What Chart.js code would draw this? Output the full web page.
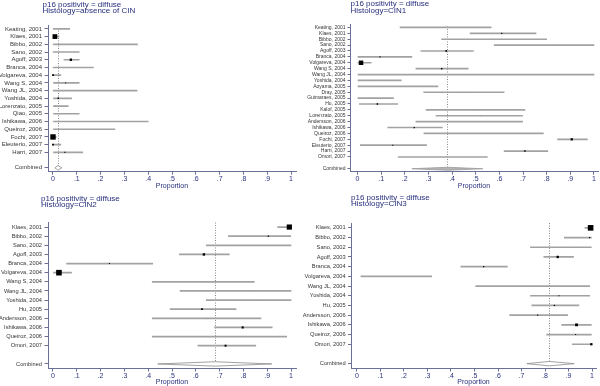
<!DOCTYPE html>
<html><head><meta charset="utf-8">
<script src="https://cdn.jsdelivr.net/npm/chart.js@4/dist/chart.umd.min.js"></script>
<style>
html,body{margin:0;padding:0;background:#fff;width:600px;height:386px;overflow:hidden}
.p{position:absolute;width:300px;height:193px}
canvas{display:block}
</style></head><body>
<div class="p" style="left:0;top:0"><canvas id="c1" width="300" height="193"></canvas></div>
<div class="p" style="left:300px;top:0"><canvas id="c2" width="300" height="193"></canvas></div>
<div class="p" style="left:0;top:193px"><canvas id="c3" width="300" height="193"></canvas></div>
<div class="p" style="left:300px;top:193px"><canvas id="c4" width="300" height="193"></canvas></div>
<script>
// ---------- DATA ----------
const xTickValues = [0, 0.1, 0.2, 0.3, 0.4, 0.5, 0.6, 0.7, 0.8, 0.9, 1];
const xTickLabels = ['0', '.1', '.2', '.3', '.4', '.5', '.6', '.7', '.8', '.9', '1'];
const xAxisTitle = 'Proportion';
const combinedLabel = 'Combined';

// Panel 1: absence of CIN
const p1Title = ['p16 positivity = diffuse', 'Histology=absence of CIN'];
const p1Studies = ['Keating, 2001', 'Klaes, 2001', 'Bibbo, 2002', 'Sano, 2002', 'Agoff, 2003', 'Branca, 2004',
  'Volgareva, 2004', 'Wang S, 2004', 'Wang JL, 2004', 'Yoshida, 2004', 'Lorenzato, 2005', 'Qiao, 2005',
  'Ishikawa, 2006', 'Queiroz, 2006', 'Fochi, 2007', 'Eleuterio, 2007', 'Harri, 2007'];
const p1Est = [0, 0.008, 0, 0, 0.075, 0, 0, 0.053, 0, 0.022, 0.01, 0.02, 0, 0, 0, 0, 0.05];
const p1Lo  = [0, 0, 0, 0, 0.046, 0, 0, 0, 0, 0, 0, 0, 0, 0, 0, 0, 0];
const p1Hi  = [0.07, 0.025, 0.355, 0.11, 0.11, 0.17, 0.033, 0.11, 0.353, 0.078, 0.064, 0.11, 0.40, 0.26, 0.014, 0.033, 0.125];
const p1Weight = [0.5, 20, 0.2, 0.5, 5, 0.5, 3, 1, 0.2, 2, 0.8, 0.8, 0.2, 0.3, 26, 3, 1];
const p1Combined = [0.021, 0.008, 0.037]; // estimate, lower, upper

// Panel 2: CIN1
const p2Title = ['p16 positivity = diffuse', 'Histology=CIN1'];
const p2Studies = ['Keating, 2001', 'Klaes, 2001', 'Bibbo, 2002', 'Sano, 2002', 'Agoff, 2003', 'Branca, 2004',
  'Volgareva, 2004', 'Wang S, 2004', 'Wang JL, 2004', 'Yoshida, 2004', 'Aoyama, 2005', 'Dray, 2005',
  'Guimaraes, 2005', 'Hu, 2005', 'Kalof, 2005', 'Lorenzato, 2005', 'Andersson, 2006', 'Ishikawa, 2006',
  'Queiroz, 2006', 'Fochi, 2007', 'Eleuterio, 2007', 'Harri, 2007', 'Omori, 2007'];
const p2Est = [0.36, 0.61, 0.57, 0.85, 0.375, 0.095, 0.015, 0.356, 0.5, 0.05, 0.1, 0.45, 0.05, 0.084, 0.5, 0.52, 0.46, 0.24, 0.53, 0.906, 0.149, 0.708, 0.35];
const p2Lo  = [0.18, 0.476, 0.356, 0.578, 0.268, 0, 0, 0.247, 0, 0, 0, 0.28, 0, 0.008, 0.29, 0.332, 0.247, 0.128, 0.281, 0.846, 0.012, 0.62, 0.172];
const p2Hi  = [0.565, 0.755, 0.80, 1.0, 0.49, 0.23, 0.058, 0.468, 1.0, 0.185, 0.34, 0.62, 0.152, 0.17, 0.708, 0.698, 0.698, 0.359, 0.786, 0.972, 0.292, 0.805, 0.549];
const p2Weight = [0.6, 1.2, 0.5, 0.3, 2.5, 1, 18, 2, 0.2, 0.5, 0.5, 0.5, 0.5, 2, 0.5, 0.5, 0.5, 1.5, 0.5, 4.5, 1, 2, 0.5];
const p2Combined = [0.38, 0.23, 0.53];

// Panel 3: CIN2
const p3Title = ['p16 positivity = diffuse', 'Histology=CIN2'];
const p3Studies = ['Klaes, 2001', 'Bibbo, 2002', 'Sano, 2002', 'Agoff, 2003', 'Branca, 2004', 'Volgareva, 2004',
  'Wang S, 2004', 'Wang JL, 2004', 'Yoshida, 2004', 'Hu, 2005', 'Andersson, 2006', 'Ishikawa, 2006',
  'Queiroz, 2006', 'Omori, 2007'];
const p3Est = [0.993, 0.905, 0.87, 0.634, 0.237, 0.025, 0.626, 0.83, 0.87, 0.626, 0.644, 0.797, 0.695, 0.725];
const p3Lo  = [0.944, 0.737, 0.644, 0.531, 0.057, 0, 0.417, 0.534, 0.644, 0.492, 0.417, 0.679, 0.417, 0.609];
const p3Hi  = [1.0, 0.999, 1.0, 0.741, 0.419, 0.078, 0.846, 1.0, 1.0, 0.769, 0.874, 0.921, 0.982, 0.852];
const p3Weight = [24, 1.5, 0.4, 5, 1, 28, 0.8, 0.4, 0.4, 3, 0.8, 4, 0.6, 3.5];
const p3Combined = [0.681, 0.44, 0.919];

// Panel 4: CIN3
const p4Title = ['p16 positivity = diffuse', 'Histology=CIN3'];
const p4Studies = ['Klaes, 2001', 'Bibbo, 2002', 'Sano, 2002', 'Agoff, 2003', 'Branca, 2004', 'Volgareva, 2004',
  'Wang JL, 2004', 'Yoshida, 2004', 'Hu, 2005', 'Andersson, 2006', 'Ishikawa, 2006', 'Queiroz, 2006', 'Omori, 2007'];
const p4Est = [0.994, 0.99, 0.93, 0.854, 0.539, 0.165, 0.83, 0.859, 0.84, 0.769, 0.934, 0.93, 0.997];
const p4Lo  = [0.97, 0.882, 0.738, 0.795, 0.442, 0.017, 0.505, 0.738, 0.744, 0.65, 0.871, 0.807, 0.916];
const p4Hi  = [1.0, 0.997, 0.997, 0.921, 0.64, 0.318, 0.99, 0.99, 0.944, 0.896, 0.997, 0.997, 1.0];
const p4Weight = [28, 1.2, 0.3, 5, 1.5, 0.5, 0.3, 1, 1.5, 1, 7, 1, 4.5];
const p4Combined = [0.818, 0.723, 0.924];

// ---------- STYLE / LAYOUT ----------
const FONT = "'Liberation Sans', Arial, sans-serif";
Chart.defaults.font.family = FONT;
const NAVY = '#28307c';
const AXIS = '#6a7098';
const LABEL = '#363636';
const CI = '#a2a2a2';

const forestPlugin = {
  id: 'forest',
  beforeDatasetsDraw(chart, args, o) {
    const ctx = chart.ctx, xs = chart.scales.x, ys = chart.scales.y;
    const px = Math.round(xs.getPixelForValue(o.pooled[0])) + 0.5;
    const yb = ys.getPixelForValue(o.row);
    ctx.save();
    ctx.strokeStyle = '#8a8a8a'; ctx.lineWidth = 1; ctx.setLineDash([1, 1.5]);
    ctx.beginPath(); ctx.moveTo(px, chart.chartArea.top + o.refTop); ctx.lineTo(px, yb + 2); ctx.stroke();
    ctx.restore();
  },
  afterDatasetsDraw(chart, args, o) {
    const ctx = chart.ctx, xs = chart.scales.x, ys = chart.scales.y;
    const cy = ys.getPixelForValue(o.row);
    const e = o.pooled[0], l = o.pooled[1], h = o.pooled[2];
    ctx.save();
    ctx.beginPath();
    ctx.moveTo(xs.getPixelForValue(l), cy);
    ctx.lineTo(xs.getPixelForValue(e), cy - o.dh);
    ctx.lineTo(xs.getPixelForValue(h), cy);
    ctx.lineTo(xs.getPixelForValue(e), cy + o.dh);
    ctx.closePath();
    ctx.fillStyle = o.dFill; ctx.fill();
    ctx.strokeStyle = o.dStroke; ctx.lineWidth = 0.8; ctx.stroke();
    ctx.restore();
  },
  afterDraw(chart, args, o) {
    const ctx = chart.ctx;
    ctx.save();
    ctx.font = o.tSize + 'px ' + FONT;
    ctx.fillStyle = NAVY; ctx.textBaseline = 'middle'; ctx.textAlign = 'left';
    o.title.forEach((t, i) => ctx.fillText(t, o.tx, o.ty[i]));
    ctx.restore();
  }
};

function makePanel(cfg, title, studies, est, lo, hi, weight, pooled) {
  const labels = studies.concat(['', combinedLabel]);
  const ci = lo.map((l, i) => [l, hi[i]]).concat([null, null]);
  const pts = est.concat([null, null]);
  const radii = weight.map(w => Math.max(0.45, 0.75 * Math.sqrt(w))).concat([0, 0]);
  const cols = weight.map(w => w >= 1 ? '#000' : '#9a9a9a').concat(['#000', '#000']);
  const blankIdx = labels.length - 2;
  new Chart(document.getElementById(cfg.id), {
    type: 'bar',
    data: {
      labels: labels,
      datasets: [
        { type: 'bar', indexAxis: 'y', data: ci, backgroundColor: CI, borderWidth: 0, barThickness: 1, order: 2 },
        { type: 'line', indexAxis: 'y', data: pts, showLine: false, pointStyle: 'rect',
          pointRadius: radii, pointHoverRadius: radii, pointBackgroundColor: cols, pointBorderWidth: 0,
          clip: false, order: 1 }
      ]
    },
    options: {
      indexAxis: 'y', responsive: false, animation: false,
      layout: { padding: { top: cfg.top, right: cfg.right, left: 0, bottom: 0 } },
      plugins: {
        legend: { display: false }, tooltip: { enabled: false },
        forest: { pooled: pooled, row: labels.length - 1, refTop: cfg.refTop, dh: cfg.dh, dFill: cfg.dFill,
          dStroke: cfg.dStroke, title: title, tx: cfg.tx, ty: cfg.ty, tSize: cfg.tSize }
      },
      scales: {
        x: {
          type: 'linear', min: cfg.xmin, max: cfg.xmax,
          afterBuildTicks: s => { s.ticks = xTickValues.map(v => ({ value: v })); },
          afterFit: s => { s.height = cfg.xh; },
          ticks: { autoSkip: false, maxRotation: 0, padding: 0, color: NAVY, font: { size: 7 },
            callback: (v) => { const i = xTickValues.findIndex(t => Math.abs(t - v) < 1e-9); return i >= 0 ? xTickLabels[i] : ''; } },
          grid: { drawOnChartArea: false, drawTicks: true, tickLength: 3, color: AXIS, lineWidth: 1 },
          border: { display: true, color: AXIS, width: 1 },
          title: { display: true, text: xAxisTitle, color: NAVY, font: { size: 7 }, padding: { top: 0, bottom: cfg.tPad } }
        },
        y: {
          type: 'category', offset: true,
          afterFit: s => { s.width = cfg.yw; },
          ticks: { autoSkip: false, color: LABEL, padding: cfg.yPad, font: { size: cfg.yFont } },
          grid: { offset: false, drawOnChartArea: false, drawTicks: true, tickLength: cfg.yTick,
            color: c => c.index === blankIdx ? 'rgba(0,0,0,0)' : AXIS, lineWidth: 1 },
          border: { display: true, color: AXIS, width: 1 }
        }
      }
    },
    plugins: [forestPlugin]
  });
}

makePanel({ id: 'c1', top: 25, xh: 21.3, yw: 48, right: 4, xmin: -0.021, xmax: 1.021, yFont: 6, yTick: 3.5, yPad: 2.5,
  tPad: 2.8, tx: 42.5, ty: [4.5, 10.8], tSize: 8, refTop: 3, dh: 2.3, dFill: '#fff', dStroke: '#8a8a8a' },
  p1Title, p1Studies, p1Est, p1Lo, p1Hi, p1Weight, p1Combined);
makePanel({ id: 'c2', top: 24.5, xh: 21.3, yw: 50, right: 2, xmin: -0.0317, xmax: 1.017, yFont: 5, yTick: 2.5, yPad: 2,
  tPad: 2.8, tx: 50.5, ty: [4, 10.3], tSize: 8, refTop: 2, dh: 1.5, dFill: '#b4b4b4', dStroke: '#9a9a9a' },
  p2Title, p2Studies, p2Est, p2Lo, p2Hi, p2Weight, p2Combined);
makePanel({ id: 'c3', top: 29.5, xh: 17.5, yw: 48, right: 4, xmin: -0.021, xmax: 1.021, yFont: 5.7, yTick: 3.5, yPad: 2.5,
  tPad: 0, tx: 41, ty: [6, 12.2], tSize: 8, refTop: 0, dh: 2.2, dFill: '#fff', dStroke: '#8a8a8a' },
  p3Title, p3Studies, p3Est, p3Lo, p3Hi, p3Weight, p3Combined);
makePanel({ id: 'c4', top: 30, xh: 17.5, yw: 51, right: 2, xmin: -0.0253, xmax: 1.017, yFont: 5.7, yTick: 3, yPad: 2.3,
  tPad: 0, tx: 51, ty: [5, 11.2], tSize: 8, refTop: 0, dh: 2.2, dFill: '#fff', dStroke: '#8a8a8a' },
  p4Title, p4Studies, p4Est, p4Lo, p4Hi, p4Weight, p4Combined);
</script>
</body></html>
